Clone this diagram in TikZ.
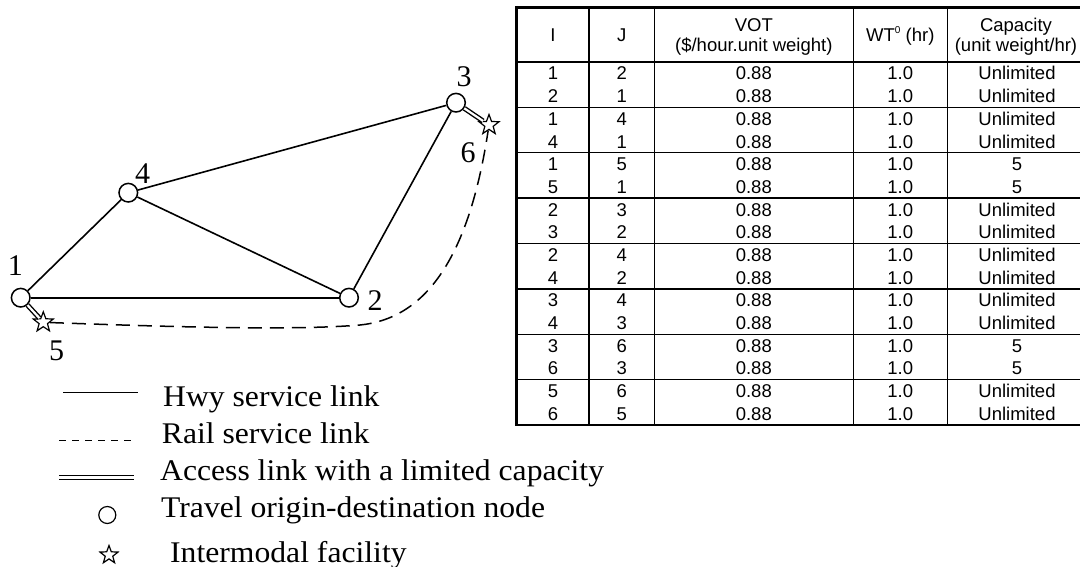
\documentclass[tikz,border=0pt]{standalone}
\usepackage{fontspec}
\usepackage{graphicx}
\setmainfont{Liberation Serif}
\newfontfamily\tabfont{Liberation Sans}
\usetikzlibrary{shapes.geometric}
\begin{document}
\begin{tikzpicture}[x=1pt,y=-1pt,
 vtx/.style={circle, draw, line width=1.5pt, minimum size=18.6pt, inner sep=0pt},
 fac/.style={star, star points=5, star point ratio=2.4, draw, line width=1.2pt, minimum size=21pt, inner sep=0pt, fill=white},
 hwy/.style={line width=1.6pt},
 rail/.style={line width=1.5pt, dash pattern=on 14pt off 8pt},
 legrail/.style={line width=1.4pt, dash pattern=on 7.3pt off 5.7pt},
 access/.style={double, double distance=2.2pt, line width=1.4pt},
 lbl/.style={font=\fontsize{30}{36}\selectfont, inner sep=0pt, anchor=base},
 leg/.style={font=\fontsize{30}{36}\selectfont, inner sep=0pt, anchor=base west},
 cell/.style={font=\tabfont\fontsize{18.5}{22}\selectfont, inner sep=0pt, anchor=base},
 outerln/.style={line width=2.5pt},
 innerln/.style={line width=1.5pt}]
\useasboundingbox (0,0) rectangle (1080,567);

% ---------- network ----------
\node[vtx] (n1) at (20.7,297.7) {};
\node[vtx] (n2) at (349,297.7) {};
\node[vtx] (n3) at (456,102.7) {};
\node[vtx] (n4) at (128.3,192.7) {};

\draw[hwy] (n1) -- (n4);
\draw[hwy] (n1) -- (n2);
\draw[hwy] (n4) -- (n3);
\draw[hwy] (n4) -- (n2);
\draw[hwy] (n3) -- (n2);

\node[fac] (s5) at (43.3,322.3) {};
\node[fac] (s6) at (489,125) {};

\draw[access] (n1) -- (s5);
\draw[access] (n3) -- (s6);
\draw[rail] (s5) .. controls (200,328) and (300,330) .. (360,325)
                 .. controls (430,318) and (470,250) .. (s6);

\node[lbl] (l1) at (15.3,275) {1};
\node[lbl] (l2) at (375,310) {2};
\node[lbl] (l3) at (464,86.7) {3};
\node[lbl] (l4) at (142.5,184) {4};
\node[lbl] (l5) at (56.7,360) {5};
\node[lbl] (l6) at (468,163) {6};

% ---------- legend ----------
\coordinate (h1) at (63,392.3);  \coordinate (h2) at (138,392.3);
\draw[hwy] (h1) -- (h2);
\coordinate (r1) at (59,440.7);  \coordinate (r2) at (133,440.7);
\draw[legrail] (r1) -- (r2);
\coordinate (a1) at (59,477.5);  \coordinate (a2) at (134,477.5);
\draw[access] (a1) -- (a2);
\node[vtx, minimum size=17pt, line width=1.2pt] (lc) at (107.3,515) {};
\node[fac, minimum size=19pt] (ls) at (109,555) {};

\node[leg] (t1) at (163,406.7) {\scalebox{1.055}[1]{Hwy service link}};
\node[leg] (t2) at (161.7,443.3) {\scalebox{1.055}[1]{Rail service link}};
\node[leg] (t3) at (160,480) {\scalebox{1.055}[1]{Access link with a limited capacity}};
\node[leg] (t4) at (161,517) {\scalebox{1.055}[1]{Travel origin-destination node}};
\node[leg] (t5) at (170,562.5) {\scalebox{1.055}[1]{Intermodal facility}};

% ---------- table ----------
\draw[outerln] (516.7,7.3) -- (1081,7.3);
\draw[outerln] (516.7,425) -- (1081,425);
\draw[outerln] (516.7,6) -- (516.7,426.2);
\foreach \xx in {589,654.3,853.3,947.3}
  \draw[innerln] (\xx,7.3) -- (\xx,425);
\draw[innerln] (516.7,62) -- (1081,62);
\foreach \k in {1,...,7}
  \draw[innerln] (516.7,62+45.375*\k) -- (1081,62+45.375*\k);

\node[cell] (hI) at (553,41.3) {I};
\node[cell] (hJ) at (621.7,41.3) {J};
\node[cell] (hV1) at (753.8,31.2) {VOT};
\node[cell] (hV2) at (753.8,51.5) {(\$/hour.unit weight)};
\node[cell] (hW) at (900.3,41.3) {WT\raisebox{0.75ex}{\fontsize{10}{10}\selectfont 0} (hr)};
\node[cell] (hC1) at (1016,31.2) {Capacity};
\node[cell] (hC2) at (1016,51.5) {(unit weight/hr)};

\foreach \a/\b/\c [count=\k from 0] in {1/2/Unlimited,2/1/Unlimited,1/4/Unlimited,4/1/Unlimited,1/5/5,5/1/5,2/3/Unlimited,3/2/Unlimited,2/4/Unlimited,4/2/Unlimited,3/4/Unlimited,4/3/Unlimited,3/6/5,6/3/5,5/6/Unlimited,6/5/Unlimited}{
  \pgfmathsetmacro{\yy}{62+22.6875*(\k+0.5)+6.6}
  \node[cell] (c\k a) at (553,\yy) {\a};
  \node[cell] (c\k b) at (621.7,\yy) {\b};
  \node[cell] (c\k v) at (753.8,\yy) {0.88};
  \node[cell] (c\k w) at (900.3,\yy) {1.0};
  \node[cell] (c\k c) at (1017,\yy) {\c};
}
\end{tikzpicture}
\end{document}
